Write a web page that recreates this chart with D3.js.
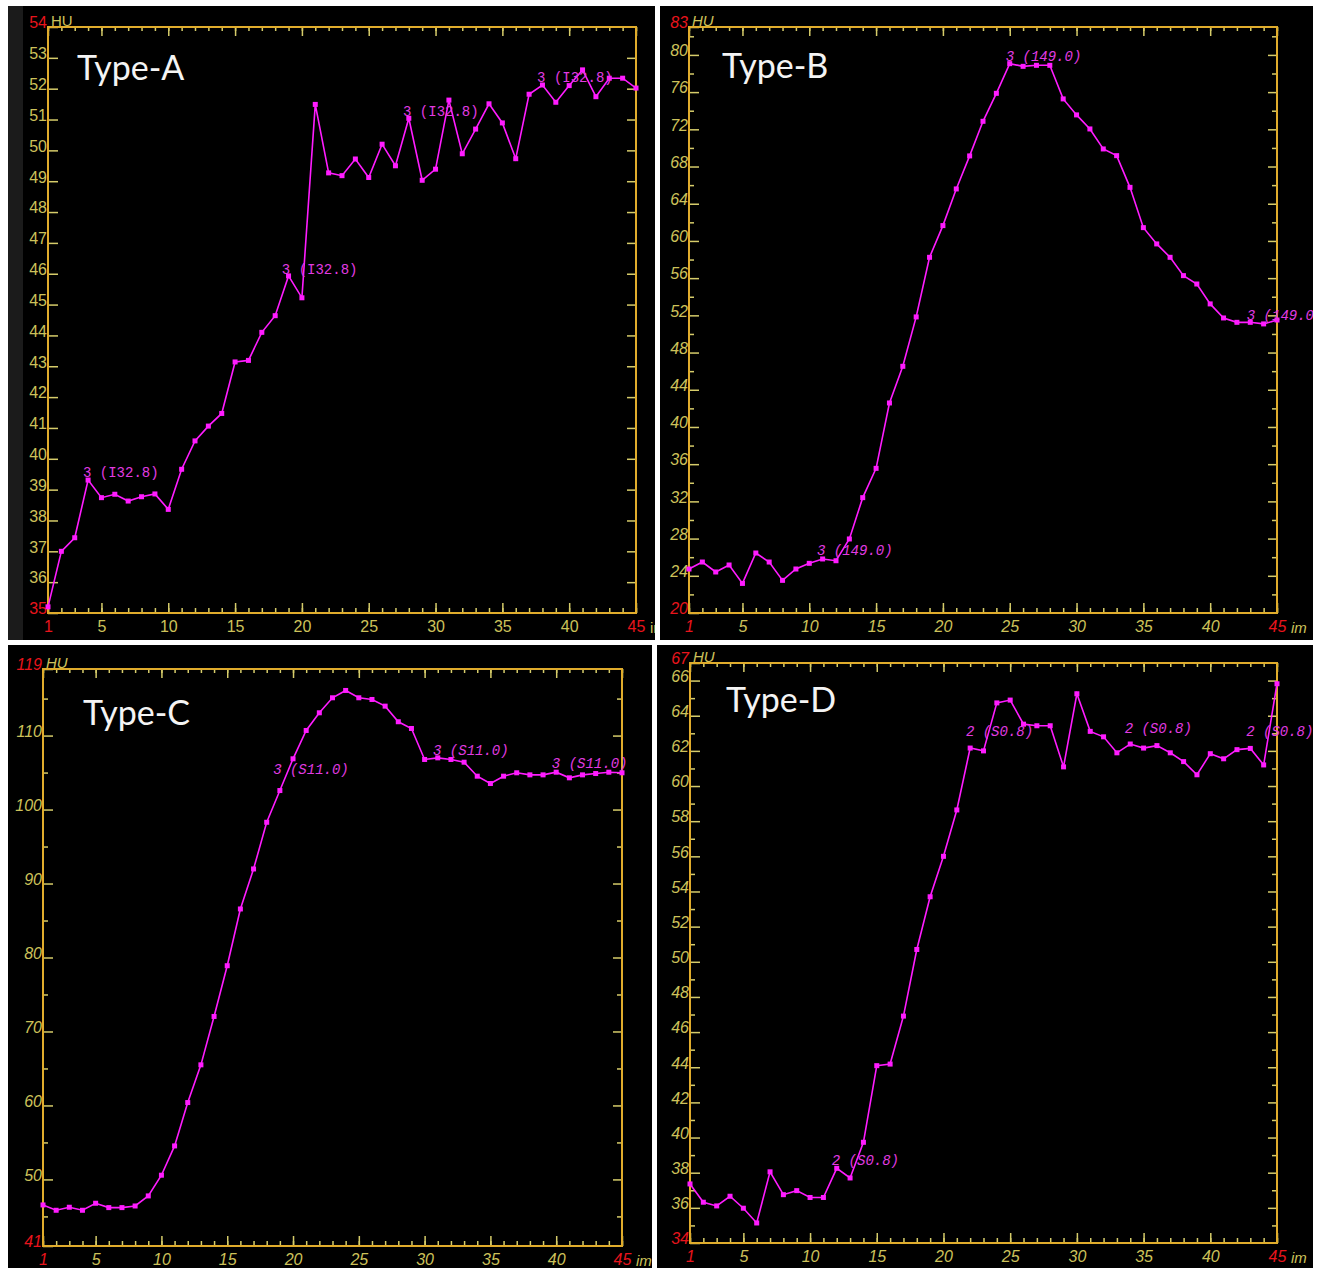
<!DOCTYPE html>
<html>
<head>
<meta charset="utf-8">
<script src="https://cdn.jsdelivr.net/npm/d3@7"></script>
<style>
  body { margin: 0; background: #fff; }
  svg { display: block; }
</style>
</head>
<body>
<div id="chart"></div>
<script>
// image index (x) shared by all four curves
const frames = [1, 2, 3, 4, 5, 6, 7, 8, 9, 10, 11, 12, 13, 14, 15, 16, 17, 18, 19, 20,
  21, 22, 23, 24, 25, 26, 27, 28, 29, 30, 31, 32, 33, 34, 35, 36, 37, 38, 39, 40, 41, 42, 43, 44, 45];
const xLabels = [1, 5, 10, 15, 20, 25, 30, 35, 40, 45];

// HU values
const typeA = [35.2, 37.0, 37.44, 39.31, 38.74, 38.85, 38.63, 38.77, 38.86, 38.36,
  39.66, 40.58, 41.06, 41.47, 43.14, 43.19, 44.10, 44.64, 45.93, 45.22,
  51.49, 49.27, 49.18, 49.72, 49.12, 50.20, 49.50, 51.04, 49.03, 49.39,
  51.63, 49.89, 50.69, 51.51, 50.89, 49.73, 51.82, 52.12, 51.56, 52.10,
  52.61, 51.74, 52.34, 52.34, 52.02];
const typeB = [24.73, 25.48, 24.41, 25.16, 23.18, 26.45, 25.48, 23.51, 24.73, 25.34,
  25.81, 25.62, 27.96, 32.40, 35.55, 42.58, 46.52, 51.83, 58.24, 61.65,
  65.59, 69.14, 72.86, 75.87, 79.06, 78.77, 78.88, 78.88, 75.27, 73.55,
  72.04, 69.89, 69.17, 65.76, 61.43, 59.68, 58.24, 56.27, 55.37, 53.23,
  51.72, 51.25, 51.25, 51.08, 51.5];
const typeC = [46.55, 45.83, 46.24, 45.83, 46.78, 46.19, 46.19, 46.41, 47.77, 50.57,
  54.53, 60.39, 65.49, 72.03, 78.89, 86.56, 91.97, 98.28, 102.57, 106.86,
  110.69, 113.08, 115.11, 116.10, 115.11, 114.88, 113.98, 111.87, 110.96, 106.77,
  106.99, 106.77, 106.40, 104.51, 103.52, 104.51, 104.97, 104.69, 104.69, 105.05,
  104.29, 104.69, 104.87, 105.05, 104.97];
const typeD = [37.36, 36.32, 36.11, 36.66, 35.98, 35.14, 38.05, 36.75, 36.98, 36.59,
  36.59, 38.25, 37.70, 39.73, 44.09, 44.18, 46.91, 50.70, 53.70, 56.0,
  58.64, 62.16, 62.0, 64.73, 64.89, 63.52, 63.43, 63.43, 61.09, 65.25,
  63.11, 62.80, 61.89, 62.39, 62.16, 62.30, 61.89, 61.39, 60.64, 61.84,
  61.55, 62.07, 62.14, 61.20, 65.82];

// y tick labels (min and max are drawn in red)
const yLabelsA = [35, 36, 37, 38, 39, 40, 41, 42, 43, 44, 45, 46, 47, 48, 49, 50, 51, 52, 53, 54];
const yMinorA = [];
const yLabelsB = [20, 24, 28, 32, 36, 40, 44, 48, 52, 56, 60, 64, 68, 72, 76, 80, 83];
const yMinorB = [22, 26, 30, 34, 38, 42, 46, 50, 54, 58, 62, 66, 70, 74, 78, 82];
const yLabelsC = [41, 50, 60, 70, 80, 90, 100, 110, 119];
const yMinorC = [45, 55, 65, 75, 85, 95, 105, 115];
const yLabelsD = [34, 36, 38, 40, 42, 44, 46, 48, 50, 52, 54, 56, 58, 60, 62, 64, 66, 67];
const yMinorD = [35, 37, 39, 41, 43, 45, 47, 49, 51, 53, 55, 57, 59, 61, 63, 65];

// ROI annotations: [image index, HU] of the text anchor
const notesA = [[3.62, 39.41], [18.5, 45.99], [27.57, 51.12], [37.6, 52.22]];
const notesB = [[10.58, 26.27], [24.7, 79.31], [42.74, 51.54]];
const notesC = [[18.49, 104.87], [30.64, 107.44], [39.67, 105.68]];
const notesD = [[11.63, 38.43], [21.68, 62.84], [33.58, 63.0], [42.69, 62.84]];

const panels = [
  { title: 'Type-A', values: typeA, yLabels: yLabelsA, yMinor: yMinorA, notes: notesA, note: '3 (I32.8)',
    italic: false, bg: [8, 6, 647, 634], plot: [48, 27, 636, 613], titlePos: [77, 80], strip: true },
  { title: 'Type-B', values: typeB, yLabels: yLabelsB, yMinor: yMinorB, notes: notesB, note: '3 (149.0)',
    italic: true, bg: [660, 6, 653, 634], plot: [689, 27, 1277, 613], titlePos: [722, 78] },
  { title: 'Type-C', values: typeC, yLabels: yLabelsC, yMinor: yMinorC, notes: notesC, note: '3 (S11.0)',
    italic: true, bg: [8, 645, 644, 623], plot: [43, 669, 622, 1246], titlePos: [83, 725] },
  { title: 'Type-D', values: typeD, yLabels: yLabelsD, yMinor: yMinorD, notes: notesD, note: '2 (S0.8)',
    italic: true, bg: [657, 645, 656, 623], plot: [690, 663, 1277, 1243], titlePos: [726, 712] }
];

const RED = '#e8141c';
const LABEL = '#cdc25a';
const TICK = '#d6cc6a';
const FRAME = '#e0ac2c';
const MAGENTA = '#ff1cff';

const svg = d3.select('#chart').append('svg')
  .attr('width', 1317)
  .attr('height', 1271);

panels.forEach((p, i) => drawPanel(p, i));

function styleAxis (ax, p, isEnd) {
  ax.select('.domain').remove();
  ax.selectAll('.tick line').attr('stroke', TICK).attr('stroke-width', 1.5);
  ax.selectAll('.tick text')
    .attr('fill', (d) => isEnd(d) ? RED : LABEL)
    .style('font-family', '"Liberation Sans", Arial, sans-serif')
    .style('font-size', '16px')
    .style('font-style', p.italic ? 'italic' : 'normal');
}

function drawPanel (p, i) {
  const [bx, by, bw, bh] = p.bg;
  const [left, top, right, bottom] = p.plot;
  const yMin = p.yLabels[0];
  const yMax = p.yLabels[p.yLabels.length - 1];

  svg.append('clipPath').attr('id', 'clip' + i)
    .append('rect').attr('x', bx).attr('y', by).attr('width', bw).attr('height', bh);
  const g = svg.append('g').attr('clip-path', `url(#clip${i})`);

  g.append('rect').attr('x', bx).attr('y', by).attr('width', bw).attr('height', bh).attr('fill', '#000');
  if (p.strip) {
    g.append('rect').attr('x', bx).attr('y', by).attr('width', 15).attr('height', bh).attr('fill', '#1b1b1b');
  }

  const x = d3.scaleLinear().domain([1, 45]).range([left, right]);
  const y = d3.scaleLinear().domain([yMin, yMax]).range([bottom, top]);
  const noLabel = () => false;

  // bottom axis
  g.append('g').attr('transform', `translate(0,${bottom})`)
    .call(d3.axisBottom(x).tickValues(frames).tickSize(-5).tickFormat(''))
    .call((ax) => styleAxis(ax, p, noLabel));
  g.append('g').attr('transform', `translate(0,${bottom})`)
    .call(d3.axisBottom(x).tickValues(xLabels).tickSize(-10).tickPadding(8).tickFormat(d3.format('d')))
    .call((ax) => styleAxis(ax, p, (d) => d === 1 || d === 45));

  // top axis
  g.append('g').attr('transform', `translate(0,${top})`)
    .call(d3.axisTop(x).tickValues(frames).tickSize(-4).tickFormat(''))
    .call((ax) => styleAxis(ax, p, noLabel));
  g.append('g').attr('transform', `translate(0,${top})`)
    .call(d3.axisTop(x).tickValues(xLabels).tickSize(-9).tickFormat(''))
    .call((ax) => styleAxis(ax, p, noLabel));

  // left axis
  g.append('g').attr('transform', `translate(${left},0)`)
    .call(d3.axisLeft(y).tickValues(p.yMinor).tickSize(-5).tickFormat(''))
    .call((ax) => styleAxis(ax, p, noLabel));
  g.append('g').attr('transform', `translate(${left},0)`)
    .call(d3.axisLeft(y).tickValues(p.yLabels).tickSize(-10).tickPadding(1).tickFormat(d3.format('d')))
    .call((ax) => styleAxis(ax, p, (d) => d === yMin || d === yMax))
    .call((ax) => ax.selectAll('.tick text').attr('dy', '0.05em'));

  // right axis
  g.append('g').attr('transform', `translate(${right},0)`)
    .call(d3.axisRight(y).tickValues(p.yMinor).tickSize(-5).tickFormat(''))
    .call((ax) => styleAxis(ax, p, noLabel));
  g.append('g').attr('transform', `translate(${right},0)`)
    .call(d3.axisRight(y).tickValues(p.yLabels.slice(1, -1)).tickSize(-9).tickFormat(''))
    .call((ax) => styleAxis(ax, p, noLabel));

  g.append('rect')
    .attr('x', left).attr('y', top)
    .attr('width', right - left).attr('height', bottom - top)
    .attr('fill', 'none')
    .attr('stroke', FRAME)
    .attr('stroke-width', 2);

  const unitFont = (sel) => sel
    .attr('fill', LABEL)
    .style('font-family', '"Liberation Sans", Arial, sans-serif')
    .style('font-size', '15px')
    .style('font-style', p.italic ? 'italic' : 'normal');

  g.append('text').attr('x', left + 3).attr('y', top - 1).text('HU').call(unitFont);
  g.append('text').attr('x', right + 14).attr('y', bottom + 20).text('im').call(unitFont);

  // curve
  const line = d3.line()
    .x((d, j) => x(frames[j]))
    .y((d) => y(d));

  g.append('path')
    .datum(p.values)
    .attr('d', line)
    .attr('fill', 'none')
    .attr('stroke', MAGENTA)
    .attr('stroke-width', 1.6);

  g.selectAll('rect.pt')
    .data(p.values)
    .enter().append('rect')
    .attr('class', 'pt')
    .attr('x', (d, j) => x(frames[j]) - 2.5)
    .attr('y', (d) => y(d) - 2.5)
    .attr('width', 5)
    .attr('height', 5)
    .attr('fill', MAGENTA);

  g.selectAll('text.note')
    .data(p.notes)
    .enter().append('text')
    .attr('class', 'note')
    .attr('x', (d) => x(d[0]))
    .attr('y', (d) => y(d[1]))
    .attr('fill', '#e23be2')
    .style('font-family', '"Liberation Mono", "DejaVu Sans Mono", monospace')
    .style('font-size', '14px')
    .style('font-style', p.italic ? 'italic' : 'normal')
    .text(p.note);

  g.append('text')
    .attr('x', p.titlePos[0])
    .attr('y', p.titlePos[1])
    .attr('fill', '#f4f4f4')
    .style('font-family', 'Lato, "Open Sans", sans-serif')
    .style('font-size', '34px')
    .text(p.title);
}
</script>
</body>
</html>
